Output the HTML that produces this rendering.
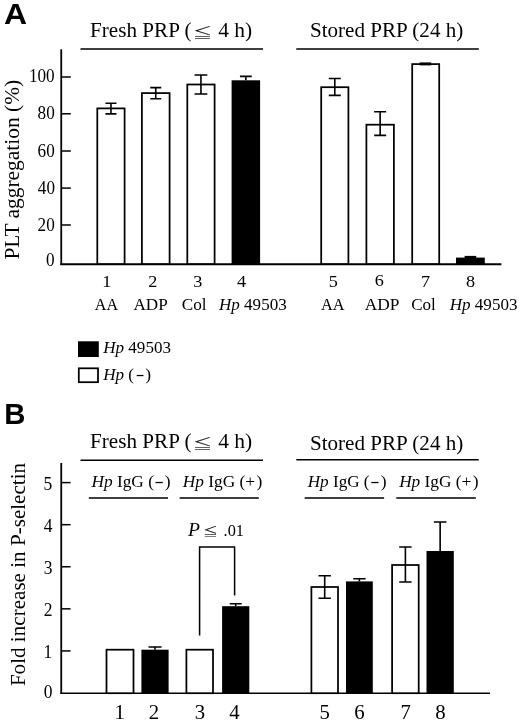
<!DOCTYPE html>
<html lang="en"><head><meta charset="utf-8"><title>Figure</title>
<style>
html,body{margin:0;padding:0;background:#fff;}
body{width:520px;height:721px;overflow:hidden;}
svg{display:block;}
text{font-family:"Liberation Serif","DejaVu Serif",serif;fill:#000;white-space:pre;}
.sans{font-family:"Liberation Sans","DejaVu Sans",sans-serif;font-weight:bold;}
.sym{font-family:"Noto Serif CJK SC","IPAGothic","Noto Sans CJK JP","DejaVu Sans",sans-serif;stroke:#000;stroke-width:.3px;}
.i{font-style:italic;}
.sym2{stroke-width:.34px;}
.thick{stroke:#000;stroke-width:.6px;}
.ln{stroke:#000;fill:none;}
.wb{fill:#fff;stroke:#000;stroke-width:1.75;}
.bb{fill:#000;}
</style></head><body>
<svg width="520" height="721" viewBox="0 0 520 721">
<rect width="520" height="721" fill="#fff"/>
<path class="ln" stroke-width="1.8" d="M61.25 49.3V265"/>
<path class="ln" stroke-width="2" d="M60.35 264.2H501.4"/>
<path class="ln" stroke-width="1.5" d="M61.25 225.00H70.8"/>
<path class="ln" stroke-width="1.5" d="M61.25 188.10H70.8"/>
<path class="ln" stroke-width="1.5" d="M61.25 151.00H70.8"/>
<path class="ln" stroke-width="1.5" d="M61.25 113.80H70.8"/>
<path class="ln" stroke-width="1.5" d="M61.25 77.00H70.8"/>
<path class="ln" stroke-width="1.6" d="M80.5 49H263M296.3 49H478.8"/>
<rect class="wb" x="97.3" y="108.4" width="27.30" height="155.60"/>
<path class="ln" stroke-width="1.6" d="M110.95 103.2V113.9M105.45 103.2h11.0M105.45 113.9h11.0"/>
<rect class="wb" x="141.9" y="93.1" width="27.70" height="170.90"/>
<path class="ln" stroke-width="1.6" d="M155.75 87.6V98.8M150.25 87.6h11.0M150.25 98.8h11.0"/>
<rect class="wb" x="187.3" y="84.5" width="27.30" height="179.50"/>
<path class="ln" stroke-width="1.6" d="M200.95 75.0V94.0M194.55 75.0h12.8M194.55 94.0h12.8"/>
<rect class="bb" x="231.6" y="80.3" width="28.50" height="183.70"/>
<path class="ln" stroke-width="1.6" d="M245.85 76.4V80.3M239.95 76.4h11.8"/>
<rect class="wb" x="321.2" y="87.2" width="27.20" height="176.80"/>
<path class="ln" stroke-width="1.6" d="M334.80 78.5V95.4M328.80 78.5h12.0M328.80 95.4h12.0"/>
<rect class="wb" x="366.4" y="124.7" width="27.50" height="139.30"/>
<path class="ln" stroke-width="1.6" d="M380.15 111.7V135.4M374.15 111.7h12.0M374.15 135.4h12.0"/>
<rect class="wb" x="412.2" y="64.1" width="27.00" height="199.90"/>
<rect class="bb" x="456.0" y="257.6" width="28.80" height="6.40"/>
<path class="ln" stroke-width="3" d="M419.6 63.9H431.2"/>
<rect class="bb" x="464.6" y="255.9" width="11.6" height="2.2"/>
<rect class="bb" x="78" y="341.3" width="20.8" height="15.7"/>
<rect class="wb" x="78.8" y="368.3" width="19.2" height="13.9"/>
<path class="ln" stroke-width="1.8" d="M61.25 463V694"/>
<path class="ln" stroke-width="1.7" d="M60.35 693.25H490"/>
<path class="ln" stroke-width="1.5" d="M61.25 650.92H70.6"/>
<path class="ln" stroke-width="1.5" d="M61.25 608.84H70.6"/>
<path class="ln" stroke-width="1.5" d="M61.25 566.76H70.6"/>
<path class="ln" stroke-width="1.5" d="M61.25 524.68H70.6"/>
<path class="ln" stroke-width="1.5" d="M61.25 482.60H70.6"/>
<path class="ln" stroke-width="1.6" d="M80.5 460.2H263M296.3 459.7H478.8"/>
<path class="ln" stroke-width="1.6" d="M88.8 498H168M179.6 498H258.8M304.7 498H384.1M396.3 498H475.8"/>
<rect class="wb" x="106.5" y="649.7" width="27.00" height="43.50"/>
<rect class="bb" x="141.4" y="649.7" width="27.20" height="43.50"/>
<path class="ln" stroke-width="1.6" d="M155.00 647V649.7M148.50 647h13.0"/>
<rect class="wb" x="186.4" y="649.7" width="26.60" height="43.50"/>
<rect class="bb" x="222.1" y="606.2" width="27.20" height="87.00"/>
<path class="ln" stroke-width="1.6" d="M235.70 603.8V606.2M229.70 603.8h12"/>
<rect class="wb" x="311.4" y="587" width="26.60" height="106.20"/>
<path class="ln" stroke-width="1.6" d="M324.70 575.8V598.2M318.50 575.8h12.4M318.50 598.2h12.4"/>
<rect class="bb" x="346" y="581.4" width="26.80" height="111.80"/>
<path class="ln" stroke-width="1.6" d="M359.40 578.8V581.4M353.20 578.8h12.4"/>
<rect class="wb" x="392.1" y="565" width="26.60" height="128.20"/>
<path class="ln" stroke-width="1.6" d="M405.40 547V582M399.20 547h12.4M399.20 582h12.4"/>
<rect class="bb" x="426.5" y="551" width="27.30" height="142.20"/>
<path class="ln" stroke-width="1.6" d="M440.15 522V551M433.85 522h12.6"/>
<path class="ln" stroke-width="1.5" d="M199.6 635.5V547H234.6V595.5"/>
<text xml:space="preserve" class="sans" transform="translate(4.10 24.00) scale(1.0650 1.0)" font-size="30">A</text>
<text xml:space="preserve" class="sans" transform="translate(4.28 423.85) scale(1.0000 1.0)" font-size="29.3">B</text>
<text xml:space="preserve" transform="translate(90.07 36.50) scale(1.0575 1.0)" font-size="20">Fresh PRP (</text>
<text xml:space="preserve" transform="translate(193.12 37.50) scale(0.9500 0.68)" font-size="20"><tspan class="sym">≦</tspan></text>
<text xml:space="preserve" transform="translate(218.21 36.50) scale(1.0744 1.0)" font-size="20">4 h)</text>
<text xml:space="preserve" transform="translate(309.93 36.50) scale(1.0558 1.0)" font-size="20">Stored PRP (24 h)</text>
<text xml:space="preserve" transform="translate(90.07 447.50) scale(1.0575 1.0)" font-size="20">Fresh PRP (</text>
<text xml:space="preserve" transform="translate(193.12 448.50) scale(0.9500 0.68)" font-size="20"><tspan class="sym">≦</tspan></text>
<text xml:space="preserve" transform="translate(218.21 447.50) scale(1.0744 1.0)" font-size="20">4 h)</text>
<text xml:space="preserve" transform="translate(309.93 449.70) scale(1.0558 1.0)" font-size="20">Stored PRP (24 h)</text>
<text xml:space="preserve" transform="translate(18.80 259.54) rotate(-90) scale(1.0713 1.0)" font-size="20">PLT aggregation (%)</text>
<text xml:space="preserve" transform="translate(25.10 686.11) rotate(-90) scale(1.0296 1.0)" font-size="20.5">Fold increase in P-selectin</text>
<text xml:space="preserve" transform="translate(28.97 81.60) scale(0.9800 1.06)" font-size="17.5">100</text>
<text xml:space="preserve" transform="translate(37.62 119.10) scale(0.9800 1.06)" font-size="17.5">80</text>
<text xml:space="preserve" transform="translate(37.62 156.80) scale(0.9800 1.06)" font-size="17.5">60</text>
<text xml:space="preserve" transform="translate(37.87 193.80) scale(0.9800 1.06)" font-size="17.5">40</text>
<text xml:space="preserve" transform="translate(37.62 231.20) scale(0.9800 1.06)" font-size="17.5">20</text>
<text xml:space="preserve" transform="translate(46.01 265.90) scale(0.9800 1.06)" font-size="17.5">0</text>
<text xml:space="preserve" transform="translate(43.67 698.00) scale(1.0000 1.02)" font-size="17.5">0</text>
<text xml:space="preserve" transform="translate(43.48 657.70) scale(1.0000 1.02)" font-size="17.5">1</text>
<text xml:space="preserve" transform="translate(43.80 615.60) scale(1.0000 1.02)" font-size="17.5">2</text>
<text xml:space="preserve" transform="translate(43.67 573.80) scale(1.0000 1.02)" font-size="17.5">3</text>
<text xml:space="preserve" transform="translate(43.67 531.60) scale(1.0000 1.02)" font-size="17.5">4</text>
<text xml:space="preserve" transform="translate(43.55 489.80) scale(1.0000 1.02)" font-size="17.5">5</text>
<text xml:space="preserve" transform="translate(102.19 286.60) scale(1.0400 1.0)" font-size="17.5">1</text>
<text xml:space="preserve" transform="translate(148.33 286.60) scale(1.0400 1.0)" font-size="17.5">2</text>
<text xml:space="preserve" transform="translate(193.32 286.60) scale(1.0400 1.0)" font-size="17.5">3</text>
<text xml:space="preserve" transform="translate(237.07 286.60) scale(1.0400 1.0)" font-size="17.5">4</text>
<text xml:space="preserve" transform="translate(328.82 287.00) scale(1.0400 1.0)" font-size="17.5">5</text>
<text xml:space="preserve" transform="translate(374.69 285.70) scale(1.0400 1.0)" font-size="17.5">6</text>
<text xml:space="preserve" transform="translate(421.06 287.00) scale(1.0400 1.0)" font-size="17.5">7</text>
<text xml:space="preserve" transform="translate(466.07 287.00) scale(1.0400 1.0)" font-size="17.5">8</text>
<text xml:space="preserve" transform="translate(94.76 310.30) scale(0.9485 1.0)" font-size="17">AA</text>
<text xml:space="preserve" transform="translate(133.50 310.30) scale(1.0076 1.0)" font-size="17">ADP</text>
<text xml:space="preserve" transform="translate(181.74 310.30) scale(1.0106 1.0)" font-size="17">Col</text>
<text xml:space="preserve" transform="translate(219.00 310.30) scale(1.0037 1.0)" font-size="17"><tspan class="i">Hp</tspan> 49503</text>
<text xml:space="preserve" transform="translate(321.01 310.30) scale(0.9588 1.0)" font-size="17">AA</text>
<text xml:space="preserve" transform="translate(364.74 310.30) scale(1.0227 1.0)" font-size="17">ADP</text>
<text xml:space="preserve" transform="translate(411.25 310.30) scale(1.0000 1.0)" font-size="17">Col</text>
<text xml:space="preserve" transform="translate(449.75 310.30) scale(1.0037 1.0)" font-size="17"><tspan class="i">Hp</tspan> 49503</text>
<text xml:space="preserve" transform="translate(103.25 353.00) scale(1.0037 1.0)" font-size="17"><tspan class="i">Hp</tspan> 49503</text>
<text xml:space="preserve" transform="translate(103.25 379.90) scale(1.0033 1.0)" font-size="17"><tspan class="i">Hp</tspan> (</text>
<text xml:space="preserve" transform="translate(135.97 383.80) scale(0.8600 1.5)" font-size="17">−</text>
<text xml:space="preserve" transform="translate(145.17 379.90) scale(1.0300 1.0)" font-size="17">)</text>
<text xml:space="preserve" transform="translate(91.40 487.20) scale(1.0196 1.0)" font-size="17"><tspan class="i">Hp</tspan> IgG (</text>
<text xml:space="preserve" transform="translate(154.68 490.70) scale(0.9200 1.5)" font-size="17">−</text>
<text xml:space="preserve" transform="translate(164.67 487.20) scale(1.0300 1.0)" font-size="17">)</text>
<text xml:space="preserve" transform="translate(182.85 487.20) scale(1.0171 1.0)" font-size="17"><tspan class="i">Hp</tspan> IgG (</text>
<text xml:space="preserve" transform="translate(245.31 487.20) scale(1.0300 1.0)" font-size="17">+</text>
<text xml:space="preserve" transform="translate(256.47 487.20) scale(1.0300 1.0)" font-size="17">)</text>
<text xml:space="preserve" transform="translate(307.75 487.40) scale(1.0073 1.0)" font-size="17"><tspan class="i">Hp</tspan> IgG (</text>
<text xml:space="preserve" transform="translate(370.53 490.90) scale(0.9200 1.5)" font-size="17">−</text>
<text xml:space="preserve" transform="translate(380.67 487.40) scale(1.0300 1.0)" font-size="17">)</text>
<text xml:space="preserve" transform="translate(399.15 487.40) scale(1.0171 1.0)" font-size="17"><tspan class="i">Hp</tspan> IgG (</text>
<text xml:space="preserve" transform="translate(461.61 487.40) scale(1.0300 1.0)" font-size="17">+</text>
<text xml:space="preserve" transform="translate(472.77 487.40) scale(1.0300 1.0)" font-size="17">)</text>
<text xml:space="preserve" transform="translate(187.90 535.60) scale(1.1500 1.08)" font-size="17"><tspan class="i">P</tspan></text>
<text xml:space="preserve" transform="translate(203.22 536.00) scale(0.8500 0.64)" font-size="17"><tspan class="sym sym2">≦</tspan></text>
<text xml:space="preserve" transform="translate(223.58 535.60) scale(0.9600 1.04)" font-size="17">.01</text>
<text xml:space="preserve" transform="translate(114.49 718.50) scale(1.0400 1.0)" font-size="20">1</text>
<text xml:space="preserve" transform="translate(148.73 718.50) scale(1.0400 1.0)" font-size="20">2</text>
<text xml:space="preserve" transform="translate(194.67 718.50) scale(1.0400 1.0)" font-size="20">3</text>
<text xml:space="preserve" transform="translate(229.27 718.50) scale(1.0400 1.0)" font-size="20">4</text>
<text xml:space="preserve" transform="translate(319.49 718.50) scale(1.0400 1.0)" font-size="20">5</text>
<text xml:space="preserve" transform="translate(354.32 718.50) scale(1.0400 1.0)" font-size="20">6</text>
<text xml:space="preserve" transform="translate(400.41 718.50) scale(1.0400 1.0)" font-size="20">7</text>
<text xml:space="preserve" transform="translate(435.25 718.50) scale(1.0400 1.0)" font-size="20">8</text>
</svg></body></html>
